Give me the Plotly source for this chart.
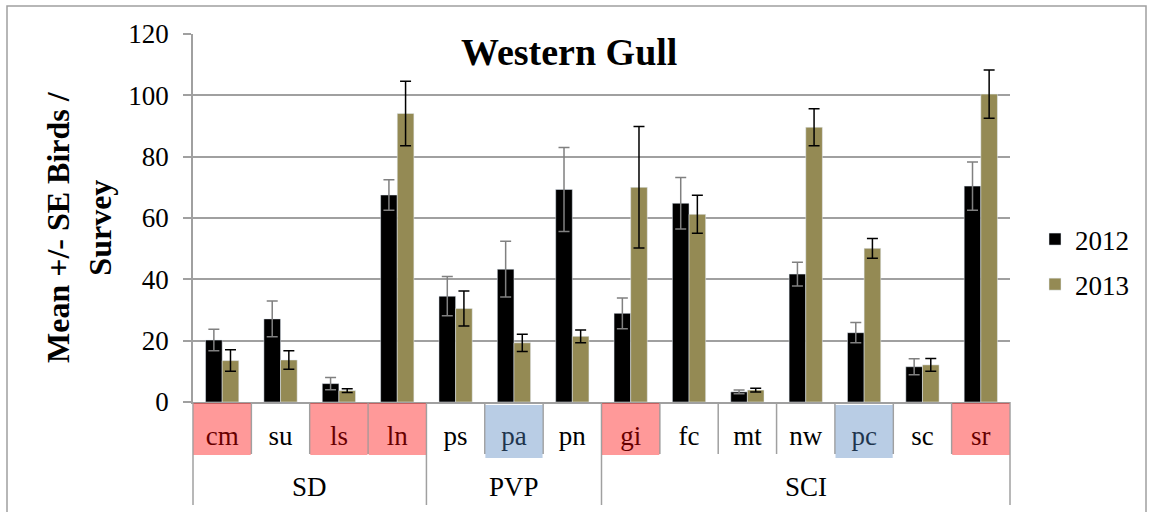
import plotly.graph_objects as go

# ---- data ----
sites = ["cm", "su", "ls", "ln", "ps", "pa", "pn", "gi", "fc", "mt", "nw", "pc", "sc", "sr"]
regions = ["SD", "SD", "SD", "SD", "PVP", "PVP", "PVP", "SCI", "SCI", "SCI", "SCI", "SCI", "SCI", "SCI"]
mean_2012 = [20.2, 27.1, 6.0, 67.5, 34.5, 43.3, 69.3, 28.9, 64.8, 3.3, 41.7, 22.6, 11.5, 70.4]
se_2012 = [3.5, 5.8, 2.0, 5.0, 6.4, 9.1, 13.7, 5.0, 8.4, 0.6, 3.9, 3.3, 2.6, 7.9]
mean_2013 = [13.5, 13.7, 3.7, 94.1, 30.5, 19.3, 21.4, 70.0, 61.2, 3.9, 89.6, 50.1, 12.1, 100.4]
se_2013 = [3.5, 3.0, 0.6, 10.5, 5.7, 2.8, 2.1, 19.8, 6.2, 0.6, 6.0, 3.2, 2.1, 7.9]
pink_sites = ["cm", "ls", "ln", "gi", "sr"]
blue_sites = ["pa", "pc"]
y_ticks = [0, 20, 40, 60, 80, 100, 120]

FONT = "Liberation Serif, Times New Roman, serif"
GRAY = "#a0a0a0"
W, H = 1150, 512
L, R, T, B = 193, 140, 34, 110
PH = H - T - B
PW = W - L - R


def py(pix):  # pixel y -> paper y
    return (H - B - pix) / PH


def px(pix):  # pixel x -> paper x
    return (pix - L) / PW


xs = list(range(len(sites)))

fig = go.Figure()
fig.add_trace(go.Bar(
    x=xs, y=mean_2012, name="2012", marker_color="#000000", legendgroup="a",
    error_y=dict(type="data", array=se_2012, color="#808080", thickness=1.5, width=5.5),
))
fig.add_trace(go.Bar(
    x=xs, y=mean_2013, name="2013", marker_color="#948A54", legendgroup="b",
    error_y=dict(type="data", array=se_2013, color="#000000", thickness=1.5, width=5.5),
))

shapes = []
# cell separators
for i in range(len(sites) - 1):
    boundary = regions[i] != regions[i + 1]
    shapes.append(dict(type="line", xref="x", yref="paper", x0=i + 0.5, x1=i + 0.5,
                       y0=0, y1=py(505 if boundary else 454),
                       line=dict(color=GRAY, width=1.5), layer="below"))
for xe in (0, 1):
    shapes.append(dict(type="line", xref="paper", yref="paper", x0=xe, x1=xe,
                       y0=0, y1=py(505), line=dict(color=GRAY, width=1.5)))
# coloured cells
for i, s in enumerate(sites):
    if s in pink_sites:
        shapes.append(dict(type="rect", xref="x", yref="paper", x0=i - 0.49, x1=i + 0.49,
                           y0=py(403), y1=py(455), fillcolor="rgb(255,0,0)", opacity=0.4,
                           line=dict(width=0), layer="above"))
    elif s in blue_sites:
        shapes.append(dict(type="rect", xref="x", yref="paper", x0=i - 0.49, x1=i + 0.49,
                           y0=py(405), y1=py(458), fillcolor="rgb(80,130,190)", opacity=0.4,
                           line=dict(width=0), layer="above"))
# outer border
shapes.append(dict(type="rect", xref="paper", yref="paper", x0=px(7), x1=px(1146),
                   y0=py(530), y1=py(6), line=dict(color=GRAY, width=1.5)))

annotations = []
# region labels
groups = []
for i, r in enumerate(regions):
    if not groups or groups[-1][0] != r:
        groups.append([r, i, i])
    else:
        groups[-1][2] = i
for r, a, b in groups:
    annotations.append(dict(text=r, x=(a + b) / 2, xref="x", y=py(487), yref="paper",
                            showarrow=False, xanchor="center", yanchor="middle",
                            font=dict(family=FONT, size=27, color="black")))
annotations.append(dict(text="<b>Western Gull</b>", x=px(569), y=py(52), xref="paper", yref="paper",
                        showarrow=False, xanchor="center", yanchor="middle",
                        font=dict(family=FONT, size=38, color="black")))
annotations.append(dict(text="<b>Mean +/- SE Birds /<br>Survey</b>", x=px(79), y=py(227),
                        xref="paper", yref="paper", textangle=-90, showarrow=False,
                        xanchor="center", yanchor="middle",
                        font=dict(family=FONT, size=32, color="black")))

fig.update_layout(
    width=W, height=H,
    margin=dict(l=L, r=R, t=T, b=B),
    paper_bgcolor="white", plot_bgcolor="white",
    barmode="group", bargap=0.43, bargroupgap=0,
    font=dict(family=FONT, size=27, color="black"),
    shapes=shapes, annotations=annotations,
    legend=dict(x=px(1035), y=py(262), xanchor="left", yanchor="middle",
                font=dict(family=FONT, size=27, color="black"), tracegroupgap=7,
                bgcolor="rgba(0,0,0,0)"),
    xaxis=dict(range=[-0.5, len(sites) - 0.5], tickvals=xs, ticktext=sites,
               showgrid=False, zeroline=False, showline=True, linecolor=GRAY, linewidth=1.5,
               ticks="outside", ticklen=9, tickcolor="rgba(0,0,0,0)",
               tickfont=dict(family=FONT, size=27, color="black")),
    yaxis=dict(range=[0, 120], tickvals=y_ticks, showgrid=True, gridcolor=GRAY, gridwidth=1.5,
               zeroline=False, showline=True, linecolor=GRAY, linewidth=1.5,
               ticks="outside", ticklen=8, tickcolor=GRAY, tickwidth=1.5,
               ticklabelstandoff=9,
               tickfont=dict(family=FONT, size=27, color="black")),
)

fig.write_html("out.html", config={"displayModeBar": False},
               post_script="document.body.style.margin='0';document.body.style.overflow='hidden';")
